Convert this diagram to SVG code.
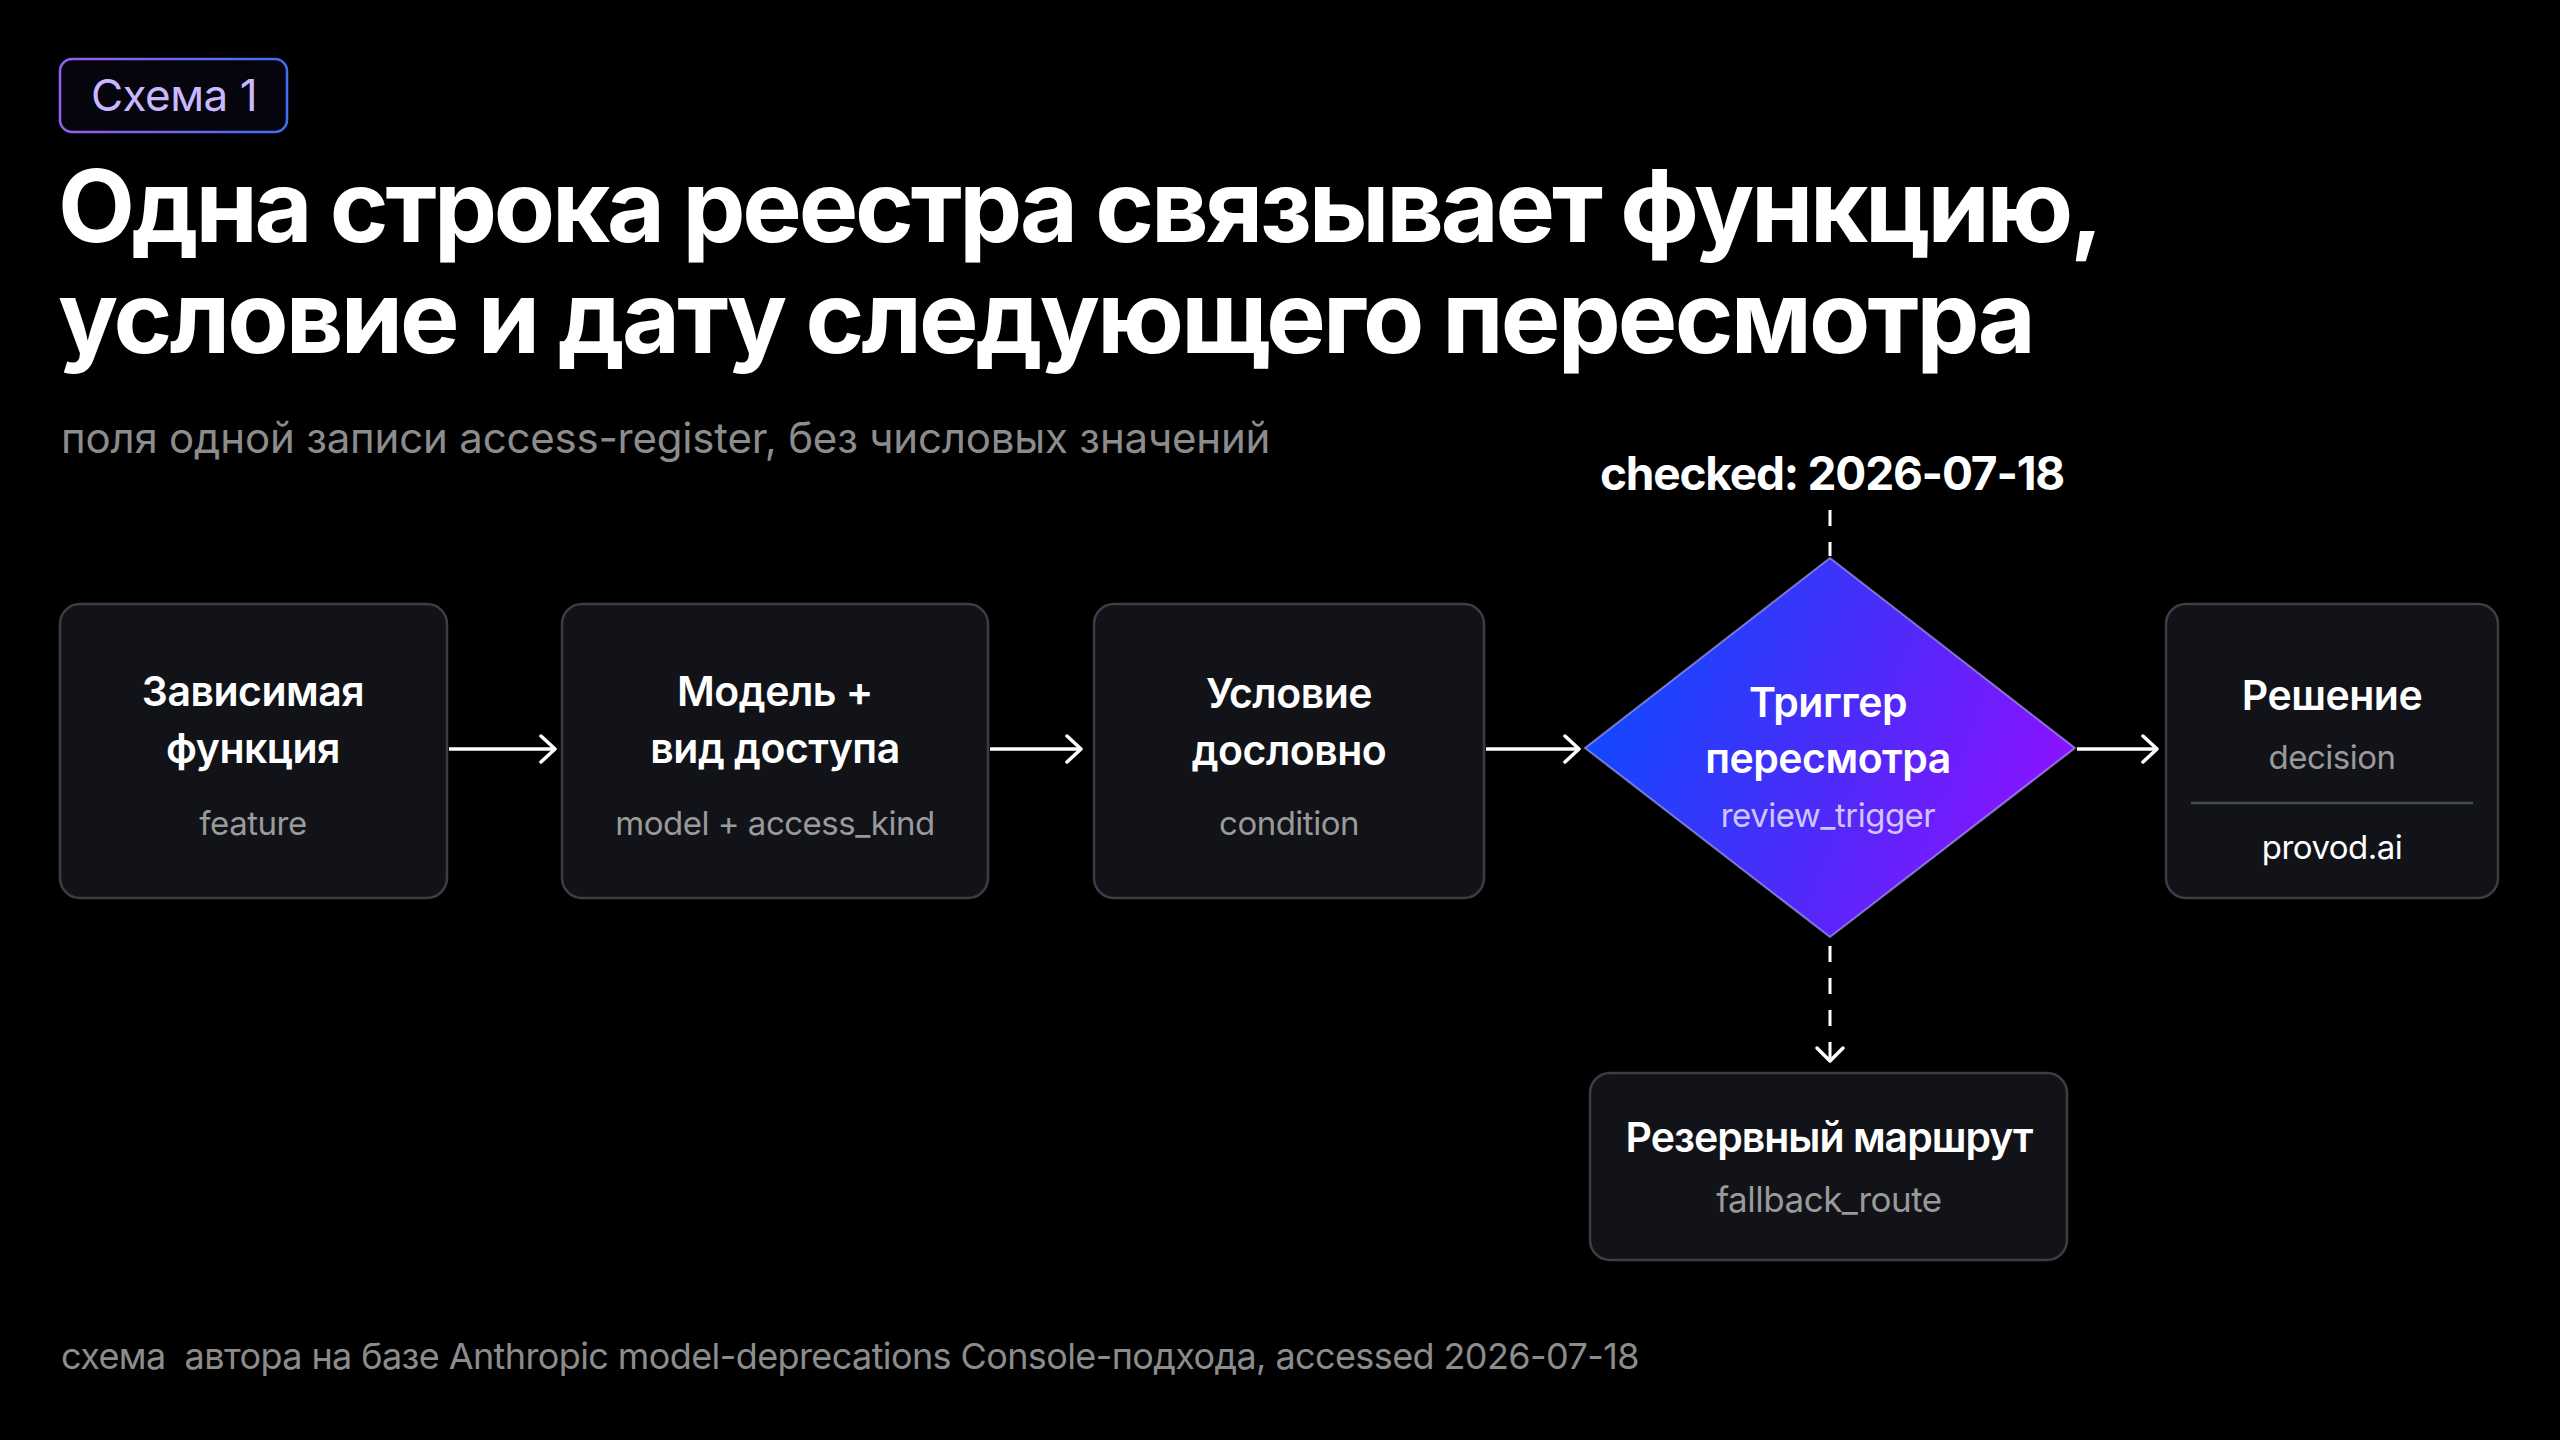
<svg xmlns="http://www.w3.org/2000/svg" width="2560" height="1440" viewBox="0 0 2560 1440">
  <defs>
    <linearGradient id="badgeStroke" x1="0" y1="0" x2="1" y2="0">
      <stop offset="0" stop-color="#9b5cf0"/>
      <stop offset="1" stop-color="#3f6ff5"/>
    </linearGradient>
    <linearGradient id="diamondFill" x1="0" y1="0.35" x2="1" y2="0.65">
      <stop offset="0" stop-color="#0d4bff"/>
      <stop offset="0.5" stop-color="#4a2cf8"/>
      <stop offset="1" stop-color="#9010ff"/>
    </linearGradient>
    <marker id="arrow" markerUnits="userSpaceOnUse" markerWidth="30" markerHeight="34" refX="16" refY="15" orient="auto">
      <path d="M2,2 L16,15 L2,28" fill="none" stroke="#ffffff" stroke-width="3.5" stroke-linecap="round" stroke-linejoin="round"/>
    </marker>
    <style>
      .font { font-family: Inter, "Noto Sans", "Liberation Sans", sans-serif; }
      .node rect.box { fill: #111318; stroke: #3c3e44; stroke-width: 2.5; }
      .head { font-family: Inter, "Noto Sans", "Liberation Sans", sans-serif; font-weight: 600; font-size: 41px; fill: #ffffff; text-anchor: middle; letter-spacing: -0.5px; }
      .sub { font-family: Inter, "Noto Sans", "Liberation Sans", sans-serif; font-weight: 400; font-size: 33px; fill: #9a9a9a; text-anchor: middle; letter-spacing: -0.5px; }
      .conn { stroke: #ffffff; stroke-width: 3.5; fill: none; }
      .dash { stroke: #ffffff; stroke-width: 3; fill: none; stroke-dasharray: 16 16; }
    </style>
  </defs>

  <rect x="0" y="0" width="2560" height="1440" fill="#000000"/>

  <g id="badge">
    <rect x="60" y="59" width="227" height="73" rx="12" fill="#06040c" stroke="url(#badgeStroke)" stroke-width="2.5"/>
    <text x="174" y="111" class="font" font-size="44" fill="#c9b8ff" text-anchor="middle" letter-spacing="-0.5">Схема 1</text>
  </g>

  <g id="title">
    <text x="58" y="242" class="font" font-size="100" font-weight="700" fill="#ffffff" letter-spacing="-3.2">Одна строка реестра связывает функцию,</text>
    <text x="58" y="353" class="font" font-size="100" font-weight="700" fill="#ffffff" letter-spacing="-2.8">условие и дату следующего пересмотра</text>
    <text x="61" y="453" class="font" font-size="42" fill="#8c8c8c" letter-spacing="-0.2">поля одной записи access-register, без числовых значений</text>
  </g>

  <g id="connectors">
    <line class="conn" x1="449" y1="749" x2="555" y2="749" marker-end="url(#arrow)"/>
    <line class="conn" x1="990" y1="749" x2="1081" y2="749" marker-end="url(#arrow)"/>
    <line class="conn" x1="1486" y1="749" x2="1579" y2="749" marker-end="url(#arrow)"/>
    <line class="conn" x1="2077" y1="749" x2="2157" y2="749" marker-end="url(#arrow)"/>
    <line class="dash" x1="1830" y1="510" x2="1830" y2="556"/>
    <line class="dash" x1="1830" y1="946" x2="1830" y2="1061"/>
    <path d="M1817,1048 L1830,1061 L1843,1048" fill="none" stroke="#ffffff" stroke-width="3.5" stroke-linecap="round" stroke-linejoin="round"/>
  </g>

  <g id="checked">
    <text x="1832" y="490" class="font" font-size="46" font-weight="700" fill="#ffffff" text-anchor="middle" letter-spacing="-1.2">checked: 2026-07-18</text>
  </g>

  <g id="node-feature" class="node">
    <rect class="box" x="60" y="604" width="387" height="294" rx="20"/>
    <text class="head" x="253" y="706">Зависимая</text>
    <text class="head" x="253" y="763">функция</text>
    <text class="sub" x="253" y="835">feature</text>
  </g>

  <g id="node-model" class="node">
    <rect class="box" x="562" y="604" width="426" height="294" rx="20"/>
    <text class="head" x="775" y="706">Модель +</text>
    <text class="head" x="775" y="763">вид доступа</text>
    <text class="sub" x="775" y="835">model + access_kind</text>
  </g>

  <g id="node-condition" class="node">
    <rect class="box" x="1094" y="604" width="390" height="294" rx="20"/>
    <text class="head" x="1289" y="708">Условие</text>
    <text class="head" x="1289" y="765">дословно</text>
    <text class="sub" x="1289" y="835">condition</text>
  </g>

  <g id="node-trigger" class="node">
    <polygon points="1830,558 2075,748 1830,937 1585,748" fill="url(#diamondFill)" stroke="#b9b4ff" stroke-opacity="0.6" stroke-width="2"/>
    <text class="head" x="1828" y="717">Триггер</text>
    <text class="head" x="1828" y="773">пересмотра</text>
    <text class="sub" x="1828" y="827" style="fill:#cdc6ff">review_trigger</text>
  </g>

  <g id="node-decision" class="node">
    <rect class="box" x="2166" y="604" width="332" height="294" rx="20"/>
    <text class="head" x="2332" y="710">Решение</text>
    <text class="sub" x="2332" y="769">decision</text>
    <line x1="2191" y1="803" x2="2473" y2="803" stroke="#4a4c52" stroke-width="2.5"/>
    <text class="sub" x="2332" y="859" style="fill:#ffffff">provod.ai</text>
  </g>

  <g id="node-fallback" class="node">
    <rect class="box" x="1590" y="1073" width="477" height="187" rx="20"/>
    <text class="head" x="1829" y="1152" style="letter-spacing:-1px">Резервный маршрут</text>
    <text class="sub" x="1829" y="1212" style="font-size:35px">fallback_route</text>
  </g>

  <g id="footer">
    <text x="61" y="1369" class="font" font-size="36" fill="#8c8c8c" letter-spacing="-0.6" xml:space="preserve">схема  автора на базе Anthropic model-deprecations Console-подхода, accessed 2026-07-18</text>
  </g>
</svg>
